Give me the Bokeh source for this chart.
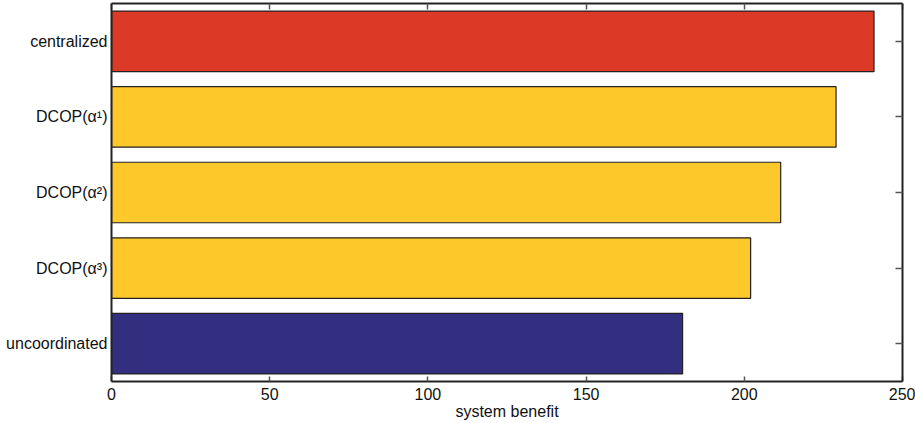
from bokeh.plotting import figure
from bokeh.models import LinearAxis, FixedTicker, Range1d, ColumnDataSource
from bokeh.embed import file_html
from bokeh.resources import INLINE

categories = ["centralized", "DCOP(α¹)", "DCOP(α²)", "DCOP(α³)", "uncoordinated"]
benefit = [241, 229, 211.5, 202, 180.5]
colors = ["#DC3A26", "#FDC92A", "#FDC92A", "#FDC92A", "#332F80"]
x_ticks = [0, 50, 100, 150, 200, 250]

n = len(categories)
ypos = [n - i for i in range(n)]

src = ColumnDataSource(dict(y=ypos, right=benefit, color=colors, name=categories))

p = figure(width=915, height=423, output_backend="svg", toolbar_location=None,
           x_range=Range1d(0, 250), y_range=Range1d(0.5, n + 0.5),
           x_axis_location=None, y_axis_location=None,
           min_border_left=111, min_border_right=13, min_border_top=3, min_border_bottom=42)
p.outline_line_color = None
p.xgrid.visible = False
p.ygrid.visible = False
p.background_fill_color = "white"
p.border_fill_color = "white"

p.hbar(y="y", left=0, right="right", height=0.8, fill_color="color",
       line_color="#222222", line_width=1.2, source=src)

FONT = "Liberation Sans"
FS = "16px"
AX = "#222222"

def style(ax, labels=True):
    ax.axis_line_color = AX
    ax.axis_line_width = 2
    ax.major_tick_line_color = "#555555"
    ax.major_tick_line_width = 1.5
    ax.minor_tick_line_color = None
    ax.major_tick_out = 0
    ax.major_label_text_font = FONT
    ax.major_label_text_font_size = FS
    ax.major_label_text_color = "#111111"
    if not labels:
        ax.major_label_text_font_size = "0px"
        ax.major_label_text_color = None

bottom = LinearAxis(ticker=FixedTicker(ticks=x_ticks), axis_label="system benefit")
style(bottom)
bottom.major_tick_in = 5
bottom.major_label_standoff = 6
bottom.axis_label_text_font = FONT
bottom.axis_label_text_font_size = FS
bottom.axis_label_text_font_style = "normal"
bottom.axis_label_text_color = "#111111"
bottom.axis_label_standoff = 0
p.add_layout(bottom, "below")

top = LinearAxis(ticker=FixedTicker(ticks=x_ticks))
style(top, labels=False)
top.major_tick_in = 6
p.add_layout(top, "above")

left = LinearAxis(ticker=FixedTicker(ticks=ypos))
left.major_label_overrides = {y: c for y, c in zip(ypos, categories)}
style(left)
left.major_tick_in = 0
left.major_label_standoff = 4
p.add_layout(left, "left")

right = LinearAxis(ticker=FixedTicker(ticks=ypos))
style(right, labels=False)
right.major_tick_in = 7
p.add_layout(right, "right")

open("out.html", "w").write(file_html(p, INLINE))
